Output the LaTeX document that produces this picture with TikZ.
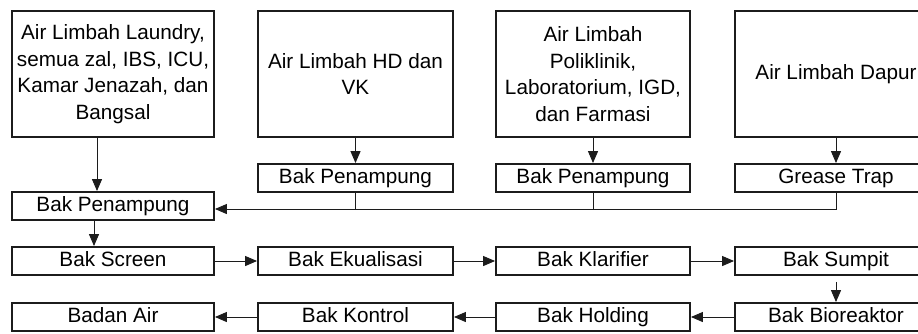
\documentclass[tikz,border=0pt]{standalone}
\usepackage{fontspec}
\setmainfont{Liberation Sans}
\usetikzlibrary{arrows.meta}
\definecolor{garis}{HTML}{1c1c1c}

\begin{document}
\begin{tikzpicture}[x=0.5pt,y=-0.5pt,font=\fontsize{10.35}{13.3}\selectfont,
  sumber/.style={draw=garis, line width=0.9pt, minimum height=63pt, align=center, inner sep=2pt},
  bak/.style={draw=garis, line width=0.9pt, minimum height=14pt, inner sep=0pt, text height=7.6pt, text depth=2.2pt},
  panah/.style={-{Triangle[length=6pt,width=5pt]}, line width=0.5pt, draw=garis}]
\useasboundingbox (0,0) rectangle (918,333);
% sumber air limbah
\node[sumber, minimum width=101pt] (laundry) at (113,74) {Air Limbah Laundry,\\semua zal, IBS, ICU,\\Kamar Jenazah, dan\\Bangsal};
\node[sumber, minimum width=97.5pt] (hd) at (355.5,74) {Air Limbah HD dan\\VK};
\node[sumber, minimum width=97pt] (poli) at (593,74) {Air Limbah\\Poliklinik,\\Laboratorium, IGD,\\dan Farmasi};
\node[sumber, minimum width=101pt] (dapur) at (836,74) {Air Limbah Dapur};
% bak awal
\node[bak, minimum width=97.5pt] (tampunghd) at (355.5,178) {Bak Penampung};
\node[bak, minimum width=97pt] (tampungpoli) at (593,178) {Bak Penampung};
\node[bak, minimum width=101pt] (grease) at (836,178) {Grease Trap};
\node[bak, minimum width=101pt] (penampung) at (113,206) {Bak Penampung};
\coordinate (masuk) at ([yshift=-1.5pt]penampung.east);
% baris pengolahan
\foreach \x/\w/\n/\t in {113/101/screen/Bak Screen, 355.5/97.5/ekual/Bak Ekualisasi, 593/97/klarif/Bak Klarifier, 836/101/sumpit/Bak Sumpit}
  \node[bak, minimum width=\w pt] (\n) at (\x,261) {\t};
\foreach \x/\w/\n/\t in {113/101/badan/Badan Air, 355.5/97.5/kontrol/Bak Kontrol, 593/97/holding/Bak Holding, 836/101/bioreaktor/Bak Bioreaktor}
  \node[bak, minimum width=\w pt] (\n) at (\x,317) {\t};
% aliran masuk
\draw[panah] ([xshift=-8pt]laundry.south) -- ([xshift=-8pt]penampung.north);
\foreach \a/\b in {hd/tampunghd, poli/tampungpoli, dapur/grease}
  \draw[panah] (\a.south) -- (\b.north);
\draw[panah] (grease.south) |- (masuk);
\foreach \a in {tampunghd, tampungpoli}
  \draw[line width=0.5pt, garis] (\a.south) -- (\a.south |- masuk);
% aliran pengolahan
\draw[panah] ([xshift=-9.5pt]penampung.south) -- ([xshift=-9.5pt]screen.north);
\draw[panah] ([yshift=-3pt]sumpit.south) -- (bioreaktor.north);
\foreach \a/\b in {screen/ekual, ekual/klarif, klarif/sumpit, bioreaktor/holding, holding/kontrol, kontrol/badan}
  \draw[panah] (\a) -- (\b);
\end{tikzpicture}
\end{document}
